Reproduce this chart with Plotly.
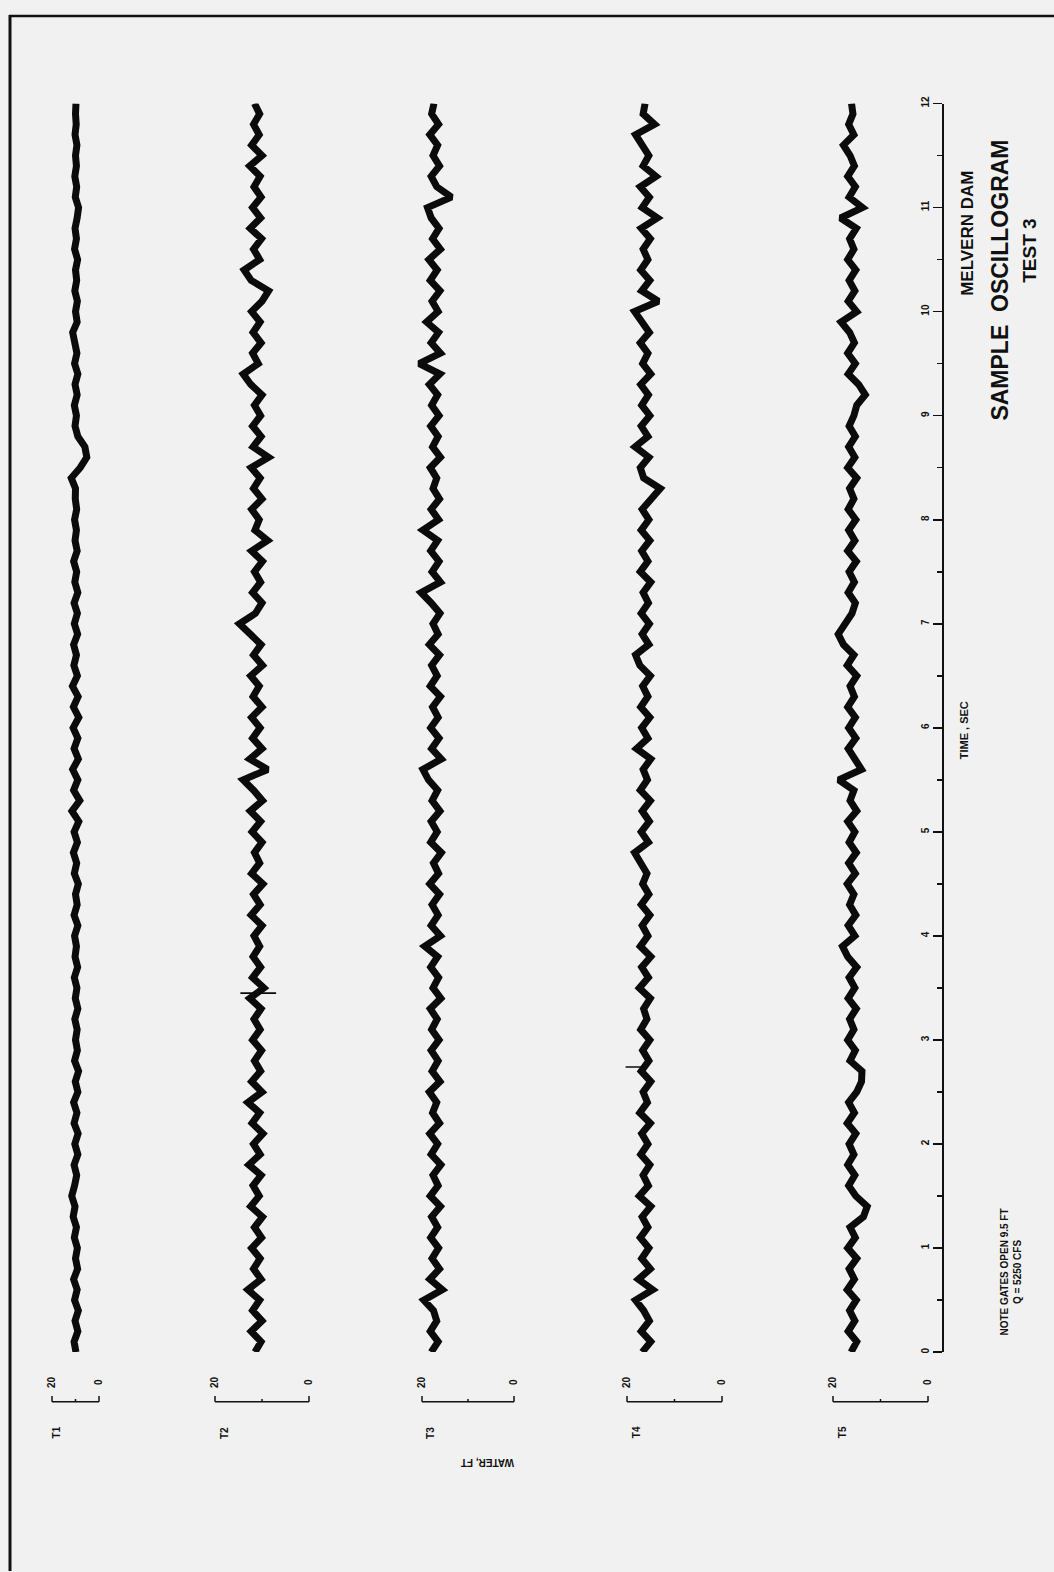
import plotly.graph_objects as go

W, H = 1054, 1572

# ---------------- data ----------------
# time samples (s), one every 0.1 s from 0 to 12
TIME = [round(i * 0.1, 1) for i in range(121)]

# water level readings (ft)
T1 = [9.8, 10.6, 9.0, 10.2, 8.8, 10.4, 9.3, 10.8, 9.1, 10.0,
      9.2, 10.5, 9.6, 11.0, 10.2, 11.6, 10.4, 9.5, 10.6, 9.0,
      10.3, 8.9, 10.6, 9.4, 10.8, 9.0, 10.1, 8.7, 10.4, 9.2,
      10.0, 9.3, 10.3, 9.0, 10.1, 9.4, 10.5, 9.1, 10.2, 9.6,
      10.4, 9.0, 10.6, 9.3, 10.0, 8.8, 10.5, 9.5, 10.9, 9.2,
      10.6, 8.6, 11.5, 8.2, 10.8, 9.0, 11.2, 8.8, 10.6, 9.0,
      11.0, 8.6, 10.9, 8.9, 11.3, 9.2, 10.7, 9.6, 10.8, 9.1,
      10.5, 9.2, 10.6, 9.0, 10.3, 9.5, 10.8, 9.3, 10.2, 9.6,
      10.4, 9.5, 10.1, 10.0, 11.8, 8.0, 5.2, 6.0, 9.0, 10.2,
      9.6, 10.5, 9.3, 10.2, 9.0, 10.4, 9.4, 10.1, 11.2, 9.3,
      10.0, 9.2, 10.3, 9.5, 10.0, 9.1, 10.4, 9.6, 10.2, 9.3,
      8.7, 10.1, 9.5, 10.3, 9.6, 10.0, 9.4, 10.2, 9.7, 10.0,
      9.8]

T2 = [11.5, 10.2, 12.3, 10.0, 12.0, 10.5, 13.0, 10.2, 11.8, 10.4,
      12.2, 10.1, 11.6, 9.9, 12.4, 10.6, 11.9, 10.2, 12.8, 10.4,
      11.8, 9.8, 12.1, 10.5, 13.0, 10.0, 12.2, 10.3, 11.6, 10.1,
      12.0, 10.4, 11.7, 10.2, 12.6, 9.6, 12.0, 10.3, 11.9, 10.5,
      11.7, 10.0, 12.3, 10.4, 11.8, 9.8, 12.2, 10.5, 11.6, 10.0,
      12.1, 10.3, 12.5, 9.9, 11.8, 14.0, 8.8, 12.6, 10.0, 12.0,
      10.4, 12.2, 10.0, 11.9, 10.6, 12.4, 9.9, 11.8, 10.2, 12.6,
      14.8, 11.4, 10.0, 12.0, 10.3, 11.6, 9.9, 12.2, 8.8, 11.5,
      10.6, 12.2, 10.0, 11.8, 10.4, 12.3, 8.6, 11.9, 10.2, 12.0,
      10.3, 11.6, 10.0, 12.4, 14.0, 10.8, 12.0, 10.2, 11.9, 10.4,
      12.2, 10.0, 8.6, 12.3, 13.8, 10.5, 11.8, 10.1, 12.5, 10.3,
      12.0, 10.2, 11.7, 10.4, 12.6, 10.0, 12.2, 10.6, 11.8, 10.5,
      11.6]

T3 = [18.0, 16.5, 18.2, 16.8, 17.5, 19.6, 15.6, 18.3, 16.2, 17.8,
      16.4, 18.1, 16.6, 17.9, 16.0, 18.2, 16.5, 17.6, 15.9, 18.0,
      16.6, 18.3, 16.2, 17.7, 16.8, 18.4, 16.1, 17.8, 16.5, 18.0,
      16.3, 17.9, 16.7, 18.2, 15.9, 17.6, 16.4, 18.1, 16.6, 19.4,
      16.0, 18.0, 16.5, 17.8, 16.2, 18.3, 16.4, 17.5, 15.8, 18.1,
      16.7, 18.0, 16.1, 17.8, 16.6, 18.6, 19.8, 15.8, 17.9, 16.3,
      18.1, 16.5, 17.7, 16.0, 18.2, 16.7, 17.9, 16.2, 18.4, 16.5,
      17.6, 16.1, 18.0, 20.2, 16.0, 17.8, 16.3, 18.1, 16.6, 19.8,
      16.4, 18.0, 16.2, 17.6, 16.8, 18.2, 16.0, 17.7, 16.5, 18.1,
      16.3, 17.9, 16.6, 18.4, 16.1, 20.6, 16.0, 18.0, 16.4, 19.0,
      16.5, 17.8, 16.1, 18.2, 16.7, 18.5, 16.0, 17.7, 16.3, 18.0,
      18.8, 13.6, 16.8, 18.0, 16.2, 17.6, 16.6, 18.3, 16.4, 17.9,
      17.4]

T4 = [16.8, 15.0, 17.0, 15.3, 16.5, 18.2, 14.6, 17.6, 15.1, 16.9,
      15.4, 17.2, 15.6, 16.8, 15.0, 17.4, 15.5, 16.6, 15.2, 17.1,
      15.6, 16.9, 15.1, 17.3, 15.7, 16.6, 15.0, 17.0, 15.4, 16.7,
      15.2, 17.1, 15.8, 16.5, 15.1, 17.4, 15.5, 16.9, 15.0, 17.2,
      15.6, 16.8, 15.2, 17.0, 15.4, 16.7, 15.8, 17.3, 18.4, 15.5,
      17.0, 15.3, 16.8, 15.1, 17.2, 15.7, 16.6, 15.0, 18.0, 15.6,
      16.9, 15.2, 17.1, 15.6, 16.7, 15.1, 17.3, 18.2, 15.4, 16.8,
      15.3, 17.0, 15.5, 16.6, 15.0, 17.2, 15.6, 16.9, 15.2, 17.0,
      15.4, 16.8, 15.0, 13.0, 16.5, 17.2, 15.4, 18.3, 15.6, 17.0,
      15.2, 16.9, 15.5, 17.1, 15.0, 16.7, 15.6, 17.2, 15.3, 16.8,
      18.4, 13.4, 16.9, 15.2, 17.1, 15.6, 16.6, 15.1, 17.0, 13.6,
      16.8, 15.3, 17.2, 13.9, 16.6, 15.4, 17.0, 18.2, 14.2, 16.6,
      16.2]

T5 = [16.2, 15.0, 16.8, 15.4, 16.5, 15.1, 17.0, 15.5, 16.6, 15.0,
      16.9, 15.3, 16.4, 13.6, 12.8, 15.2, 16.7, 15.4, 16.9, 15.6,
      16.6, 15.2, 17.0, 15.5, 16.7, 15.0, 14.0, 13.9, 16.4, 15.3,
      16.9, 15.6, 16.5, 15.1, 16.8, 15.4, 16.6, 15.0, 16.9, 18.0,
      15.4, 16.8, 15.2, 16.5, 15.6, 17.0, 15.3, 16.7, 15.1, 16.6,
      15.4, 16.9, 15.0, 16.4, 15.6, 18.8, 14.0, 15.4, 16.8, 15.2,
      16.7, 15.3, 16.9, 15.5, 16.4, 15.0, 17.0, 15.6, 17.8, 18.9,
      17.5, 16.0, 15.3, 16.8, 15.5, 16.6, 15.1, 16.9, 15.4, 16.7,
      15.2, 16.8, 15.6, 16.5, 15.0, 16.9, 15.4, 16.7, 15.3, 16.6,
      15.6, 15.0, 13.2, 14.6, 16.8, 15.3, 16.9, 15.5, 16.5, 18.3,
      15.0, 16.8, 15.4, 16.6, 15.2, 16.9, 15.6, 16.5, 15.1, 18.4,
      13.8, 16.6, 15.3, 16.9, 15.5, 16.4, 17.8, 15.6, 16.7, 15.8,
      16.1]

# thin instantaneous spikes (time s, from ft, to ft)
SPIKES = {"T2": (3.45, 14.6, 7.0), "T4": (2.74, 16.2, 20.3)}

SERIES = ["T1", "T2", "T3", "T4", "T5"]
VALUES = {"T1": T1, "T2": T2, "T3": T3, "T4": T4, "T5": T5}
SCALE_TICKS = [20, 10, 0]          # ft, scale bar ends and middle
TIME_TICKS = list(range(13))       # s

# ---------------- layout helpers ----------------
# pixel positions (left = 20 ft end, right = 0 ft end) of each scale bar
BAR_PX = {"T1": (52, 99), "T2": (215, 309), "T3": (422, 514),
          "T4": (627, 722), "T5": (833, 928)}
XR = [22, -2]
INK = "#111111"
BG = "#f1f1f1"
FONT = "Liberation Sans"

def py(px):
    return 1 - px / H

def fnt(size):
    return dict(size=size, color=INK, family=FONT, weight="bold")

fig = go.Figure()
layout_axes = {}
shapes = []
annotations = []

for i, name in enumerate(SERIES):
    ax = "x" if i == 0 else f"x{i+1}"
    axkey = "xaxis" if i == 0 else f"xaxis{i+1}"
    x20, x0 = BAR_PX[name]
    ppf = (x0 - x20) / 20.0
    left = x20 - (XR[0] - 20) * ppf
    right = x0 + (0 - XR[1]) * ppf
    layout_axes[axkey] = dict(domain=[left / W, right / W], range=XR,
                              visible=False, anchor="y", fixedrange=True)
    fig.add_trace(go.Scatter(x=VALUES[name], y=TIME, mode="lines", xaxis=ax, yaxis="y",
                             line=dict(color="#0b0b0b", width=7), hoverinfo="skip",
                             showlegend=False))
    if name in SPIKES:
        t, a, b = SPIKES[name]
        fig.add_trace(go.Scatter(x=[a, b], y=[t, t], mode="lines", xaxis=ax, yaxis="y",
                                 line=dict(color="#0b0b0b", width=1.6), hoverinfo="skip",
                                 showlegend=False))
    # scale bar
    ybar, yend, ymid = py(1402), py(1396), py(1399)
    shapes.append(dict(type="line", xref=ax, yref="paper", x0=SCALE_TICKS[0], x1=SCALE_TICKS[2],
                       y0=ybar, y1=ybar, line=dict(color=INK, width=1.5)))
    for v, ytop in [(SCALE_TICKS[0], yend), (SCALE_TICKS[2], yend), (SCALE_TICKS[1], ymid)]:
        shapes.append(dict(type="line", xref=ax, yref="paper", x0=v, x1=v,
                           y0=ybar, y1=ytop, line=dict(color=INK, width=1.5)))
    for v, lab in [(SCALE_TICKS[0], "20"), (SCALE_TICKS[2], "0")]:
        annotations.append(dict(x=v, y=py(1382), xref=ax, yref="paper", text=lab,
                                showarrow=False, textangle=-90, xanchor="center",
                                yanchor="middle", font=fnt(10)))
    annotations.append(dict(x=18, y=py(1433), xref=ax, yref="paper", text=name,
                            showarrow=False, textangle=-90, xanchor="center",
                            yanchor="middle", font=fnt(10)))

# text blocks
def note(text, xpx, ypx, size, angle=-90):
    annotations.append(dict(x=xpx / W, y=py(ypx), xref="paper", yref="paper", text=text,
                            showarrow=False, textangle=angle, xanchor="center",
                            yanchor="middle", font=fnt(size)))

note("WATER, FT", 488, 1463, 10, angle=180)
note("TIME , SEC", 964, 727, 11)
note("MELVERN DAM", 968, 228, 17)
note("SAMPLE  OSCILLOGRAM", 1000, 275, 23)
note("TEST 3", 1030, 245, 19)
note("NOTE GATES OPEN 9.5 FT<br>Q = 5250 CFS", 1011, 1272, 10)

# page border
shapes.append(dict(type="line", xref="paper", yref="paper", x0=9 / W, x1=1.0,
                   y0=py(9), y1=py(9), line=dict(color=INK, width=2.5)))
shapes.append(dict(type="line", xref="paper", yref="paper", x0=10 / W, x1=10 / W,
                   y0=py(8), y1=0, line=dict(color=INK, width=3)))

fig.update_layout(
    width=W, height=H,
    margin=dict(l=0, r=0, t=0, b=0),
    paper_bgcolor=BG, plot_bgcolor="rgba(0,0,0,0)",
    showlegend=False,
    yaxis=dict(domain=[py(1352), py(97)], range=[0, 12], anchor="free",
               position=942 / W, side="left", showline=True, linecolor=INK, linewidth=1.8,
               ticks="outside", ticklen=9, tickwidth=1.6, tickcolor=INK,
               tickvals=TIME_TICKS, tickangle=-90,
               tickfont=fnt(10),
               minor=dict(dtick=0.5, tick0=0, ticks="outside", ticklen=5,
                          tickwidth=1.6, tickcolor=INK, showgrid=False),
               showgrid=False, zeroline=False, fixedrange=True),
    shapes=shapes, annotations=annotations,
    **layout_axes,
)

fig.write_html(
    "out.html",
    config={"staticPlot": True},
    post_script="document.body.style.margin='0';document.body.style.background='%s';" % BG,
)
